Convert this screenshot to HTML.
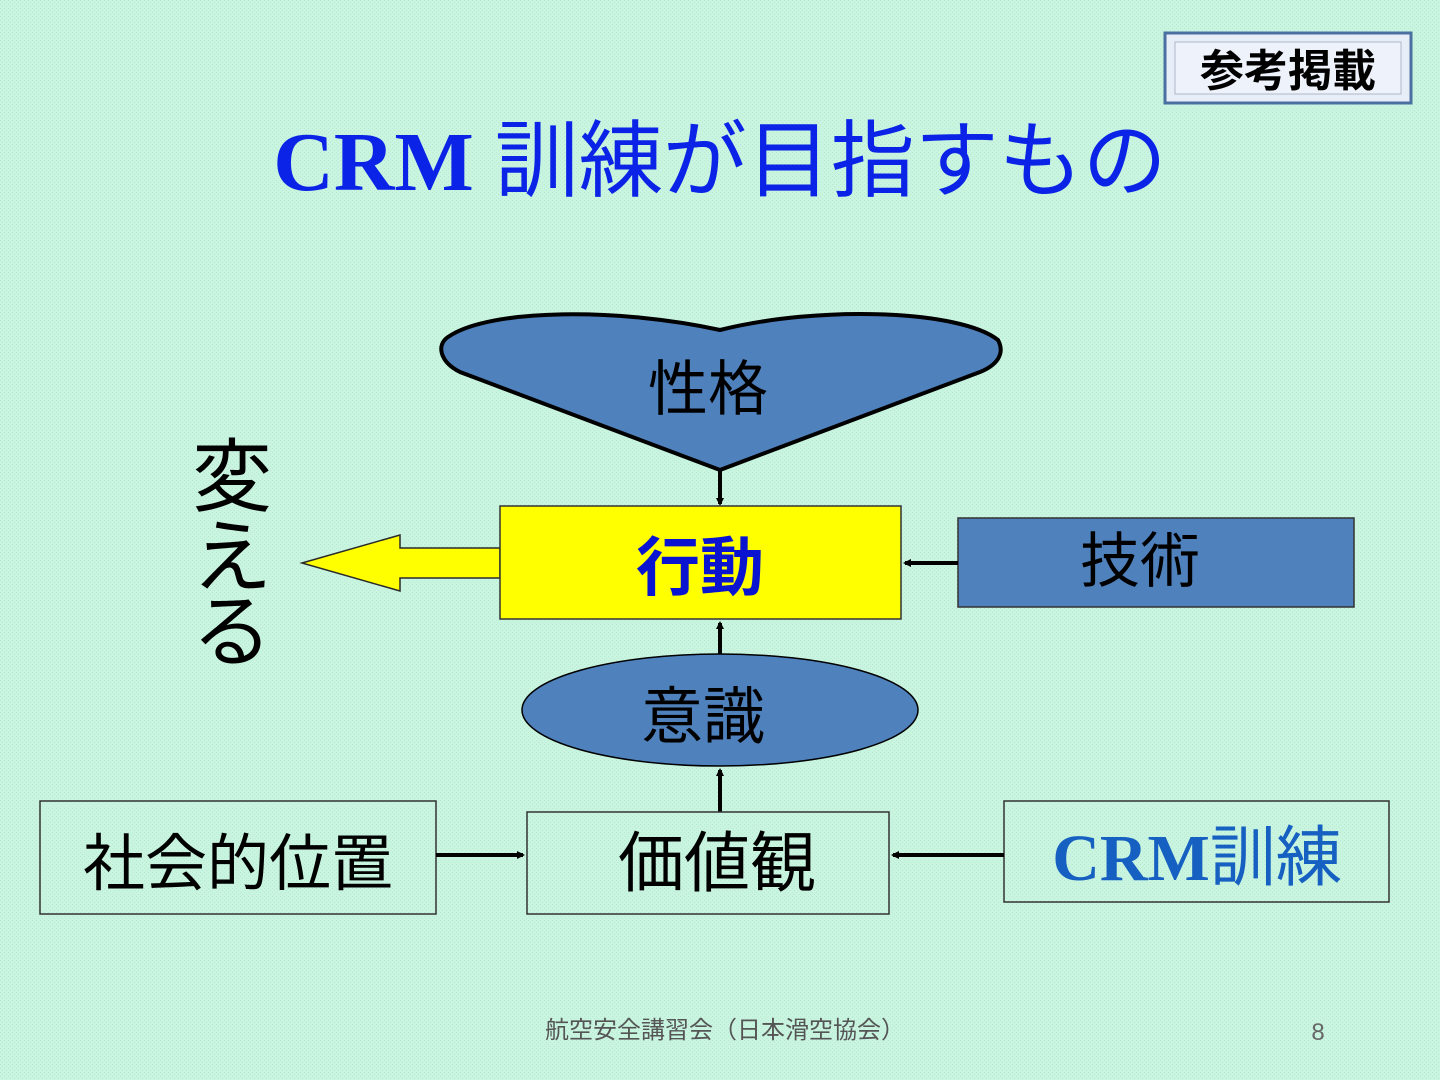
<!DOCTYPE html>
<html><head><meta charset="utf-8"><style>
body{margin:0;width:1440px;height:1080px;overflow:hidden;background:#c6f3de;}
svg{display:block}
text{font-family:"Liberation Sans","Noto Sans CJK JP",sans-serif;}
</style></head><body>
<svg width="1440" height="1080" viewBox="0 0 1440 1080">
<defs>
<pattern id="p" width="4" height="4" patternUnits="userSpaceOnUse"><rect width="4" height="4" fill="#c8f4e0"/><rect width="1" height="1" fill="#b5ebd2"/><rect x="2" y="2" width="1" height="1" fill="#b5ebd2"/></pattern>
<marker id="a" markerWidth="8" markerHeight="8" refX="6" refY="4" orient="auto" markerUnits="userSpaceOnUse" viewBox="0 0 8 8"><path d="M0,0 L8,4 L0,8 Z" fill="#000"/></marker>
</defs>
<rect width="1440" height="1080" fill="url(#p)"/>
<rect x="1165" y="33" width="246" height="70" fill="#e8eef8" stroke="#4a6fa0" stroke-width="3"/>
<rect x="1175" y="42" width="226" height="52" fill="#eef2fa" stroke="#b0b8c8" stroke-width="1"/>
<text x="1288" y="86" font-size="44" font-weight="bold" text-anchor="middle" fill="#000">参考掲載</text>
<text x="720" y="190" font-size="84" text-anchor="middle" fill="#0a23e6" font-weight="bold"><tspan font-family="Liberation Serif,serif">CRM </tspan><tspan font-weight="normal">訓練が目指すもの</tspan></text>
<path d="M720,330 C820,305 960,310 998,340 C1006,355 995,366 980,372 L720,470 L460,372 C440,362 436,345 448,337 C490,308 620,308 720,330 Z" fill="#4f81bd" stroke="#000" stroke-width="4"/>
<text x="708" y="410" font-size="60" text-anchor="middle" fill="#000">性格</text>
<line x1="720" y1="470" x2="720" y2="504" stroke="#000" stroke-width="4" marker-end="url(#a)"/>
<path d="M302,563 L400,535 L400,548 L500,548 L500,578 L400,578 L400,591 Z" fill="#ffff00" stroke="#2a2a2a" stroke-width="1.5"/>
<rect x="500" y="506" width="401" height="113" fill="#ffff00" stroke="#333" stroke-width="1.5"/>
<text x="700" y="590" font-size="64" text-anchor="middle" fill="#0a14d0" font-weight="bold">行動</text>
<rect x="958" y="518" width="396" height="89" fill="#4f81bd" stroke="#333" stroke-width="1.5"/>
<text x="1140" y="582" font-size="60" text-anchor="middle" fill="#000">技術</text>
<line x1="958" y1="563" x2="905" y2="563" stroke="#000" stroke-width="4" marker-end="url(#a)"/>
<text font-size="80" fill="#000" x="232" y="505" text-anchor="middle">変</text>
<text font-size="80" fill="#000" x="232" y="585" text-anchor="middle">え</text>
<text font-size="80" fill="#000" x="232" y="660" text-anchor="middle">る</text>
<ellipse cx="720" cy="710" rx="198" ry="56" fill="#4f81bd" stroke="#000" stroke-width="1.5"/>
<text x="703" y="738" font-size="62" text-anchor="middle" fill="#000">意識</text>
<line x1="720" y1="654" x2="720" y2="623" stroke="#000" stroke-width="4" marker-end="url(#a)"/>
<line x1="720" y1="812" x2="720" y2="770" stroke="#000" stroke-width="4" marker-end="url(#a)"/>
<rect x="40" y="801" width="396" height="113" fill="none" stroke="#333" stroke-width="1.5"/>
<text x="238" y="885" font-size="62" text-anchor="middle" fill="#000">社会的位置</text>
<rect x="527" y="812" width="362" height="102" fill="none" stroke="#333" stroke-width="1.5"/>
<text x="717" y="886" font-size="66" text-anchor="middle" fill="#000">価値観</text>
<rect x="1004" y="801" width="385" height="101" fill="none" stroke="#333" stroke-width="1.5"/>
<text x="1197" y="880" font-size="66" text-anchor="middle" fill="#1560c0"><tspan font-family="Liberation Serif,serif" font-weight="bold">CRM</tspan>訓練</text>
<line x1="436" y1="855" x2="523" y2="855" stroke="#000" stroke-width="4" marker-end="url(#a)"/>
<line x1="1004" y1="855" x2="893" y2="855" stroke="#000" stroke-width="4" marker-end="url(#a)"/>
<text x="725" y="1038" font-size="24" text-anchor="middle" fill="#555">航空安全講習会（日本滑空協会）</text>
<text x="1318" y="1040" font-size="24" text-anchor="middle" fill="#666">8</text>
</svg>
</body></html>
